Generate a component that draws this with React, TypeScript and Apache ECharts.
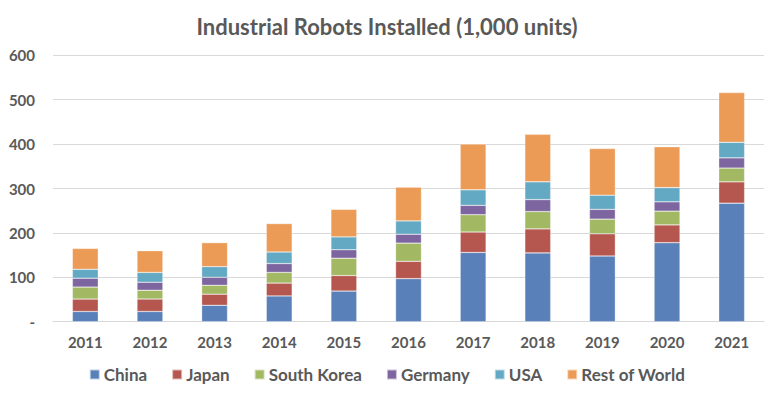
import React, { useEffect, useRef } from "react";
import * as echarts from "echarts";

const years = ["2011", "2012", "2013", "2014", "2015", "2016", "2017", "2018", "2019", "2020", "2021"];
const china = [23, 23, 37, 58, 69, 97, 156, 155, 148, 178, 267];
const japan = [28, 28, 25, 29, 35, 39, 46, 54, 50, 40, 48];
const southKorea = [27, 20, 20, 24, 39, 41, 39, 39, 33, 31, 31];
const germany = [20, 18, 18, 20, 19, 20, 21, 27, 22, 21, 23];
const usa = [20, 22, 24, 26, 29, 30, 35, 40, 32, 32, 35];
const restOfWorld = [47, 49, 54, 64, 62, 76, 103, 107, 105, 92, 112];

const seriesDefs = [
  { name: "China", data: china, color: "#5A80BA" },
  { name: "Japan", data: japan, color: "#B5574F" },
  { name: "South Korea", data: southKorea, color: "#A2B862" },
  { name: "Germany", data: germany, color: "#7D66A0" },
  { name: "USA", data: usa, color: "#64A9C3" },
  { name: "Rest of World", data: restOfWorld, color: "#EB9B56" },
];

const FONT = "Lato, 'Open Sans', sans-serif";
const TEXT = "#595959";

export default function App() {
  const ref = useRef<HTMLDivElement>(null);
  useEffect(() => {
    if (!ref.current) return;
    const chart = echarts.init(ref.current, undefined, { renderer: "svg" });
    chart.setOption({
      animation: false,
      backgroundColor: "#ffffff",
      title: {
        text: "Industrial Robots Installed (1,000 units)",
        left: "center",
        top: 10,
        textStyle: { fontFamily: FONT, fontSize: 22, fontWeight: "bold", color: TEXT },
      },
      legend: {
        bottom: 11,
        left: "center",
        itemWidth: 10,
        itemHeight: 10,
        itemGap: 24,
        icon: "rect",
        textStyle: { fontFamily: FONT, fontSize: 17, fontWeight: "bold", color: TEXT, padding: [0, 0, 0, -1] },
        data: seriesDefs.map((s) => s.name),
      },
      grid: { left: 53, right: 10, top: 55.3, bottom: 77.3, containLabel: false },
      xAxis: {
        type: "category",
        data: years,
        axisLine: { show: true, lineStyle: { color: "#d9d9d9", width: 1 } },
        axisTick: { show: false },
        axisLabel: { margin: 13, fontFamily: FONT, fontSize: 15, fontWeight: "bold", color: TEXT },
      },
      yAxis: {
        type: "value",
        min: 0,
        max: 600,
        interval: 100,
        axisLine: { show: false },
        axisTick: { show: false },
        splitLine: { lineStyle: { color: "#d9d9d9", width: 1 } },
        axisLabel: {
          margin: 18,
          fontFamily: FONT,
          fontSize: 15,
          fontWeight: "bold",
          color: TEXT,
          formatter: (v: number) => (v === 0 ? "-" : String(v)),
        },
      },
      series: seriesDefs.map((s) => ({
        name: s.name,
        type: "bar",
        stack: "total",
        barWidth: "40%",
        data: s.data,
        itemStyle: { color: s.color, borderColor: "rgba(255,255,255,0.6)", borderWidth: 0.5 },
      })),
    });
    return () => chart.dispose();
  }, []);
  return <div ref={ref} style={{ width: 774, height: 399, position: "absolute", left: 0, top: 0 }} />;
}
